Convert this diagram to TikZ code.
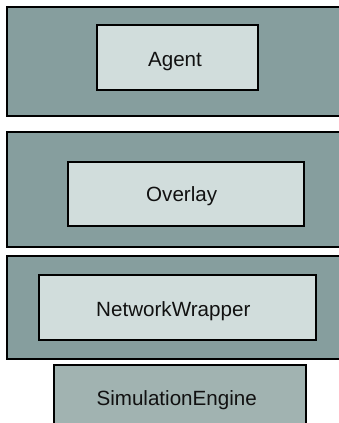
\documentclass[tikz,border=0pt]{standalone}
\usepackage{fontspec}
\setmainfont{Liberation Sans}
\definecolor{layerfill}{HTML}{869E9E}
\definecolor{compfill}{HTML}{D1DDDC}
\definecolor{enginefill}{HTML}{A1B3B1}
\definecolor{ink}{HTML}{111111}
\tikzset{
  layerbox/.style={draw=black, line width=1.6pt, fill=layerfill, rectangle, inner sep=0pt},
  compbox/.style={draw=black, line width=1.6pt, fill=compfill, rectangle, inner sep=0pt},
  enginebox/.style={draw=black, line width=1.6pt, fill=enginefill, rectangle, inner sep=0pt},
  caption/.style={anchor=base, inner sep=0pt, text=ink, font=\fontsize{20.6}{24}\selectfont},
}
\begin{document}
\begin{tikzpicture}[x=1pt, y=-1pt]
  \useasboundingbox (0,0) rectangle (339,423);
  \clip (0,0) rectangle (339,423);
  % layer frames
  \node[layerbox, minimum width=340pt, minimum height=109pt] (agentlayer) at (177,61.5) {};
  \node[layerbox, minimum width=340pt, minimum height=115pt] (overlaylayer) at (177,189.5) {};
  \node[layerbox, minimum width=340pt, minimum height=103pt] (netlayer) at (177,307.5) {};
  % component boxes
  \node[compbox, minimum width=161pt, minimum height=65pt] (agent) at (177.5,57.5) {};
  \node[compbox, minimum width=236pt, minimum height=64pt] (overlay) at (186,194) {};
  \node[compbox, minimum width=277pt, minimum height=65pt] (netwrap) at (177.5,307.5) {};
  \node[enginebox, minimum width=252pt, minimum height=70pt] (engine) at (180,400) {};
  % captions
  \node[caption] (agenttext) at (175,66.7) {Agent};
  \node[caption] (overlaytext) at (181.7,201.7) {Overlay};
  \node[caption] (netwraptext) at (173.3,316.7) {NetworkWrapper};
  \node[caption] (enginetext) at (176.7,405) {SimulationEngine};
\end{tikzpicture}
\end{document}
